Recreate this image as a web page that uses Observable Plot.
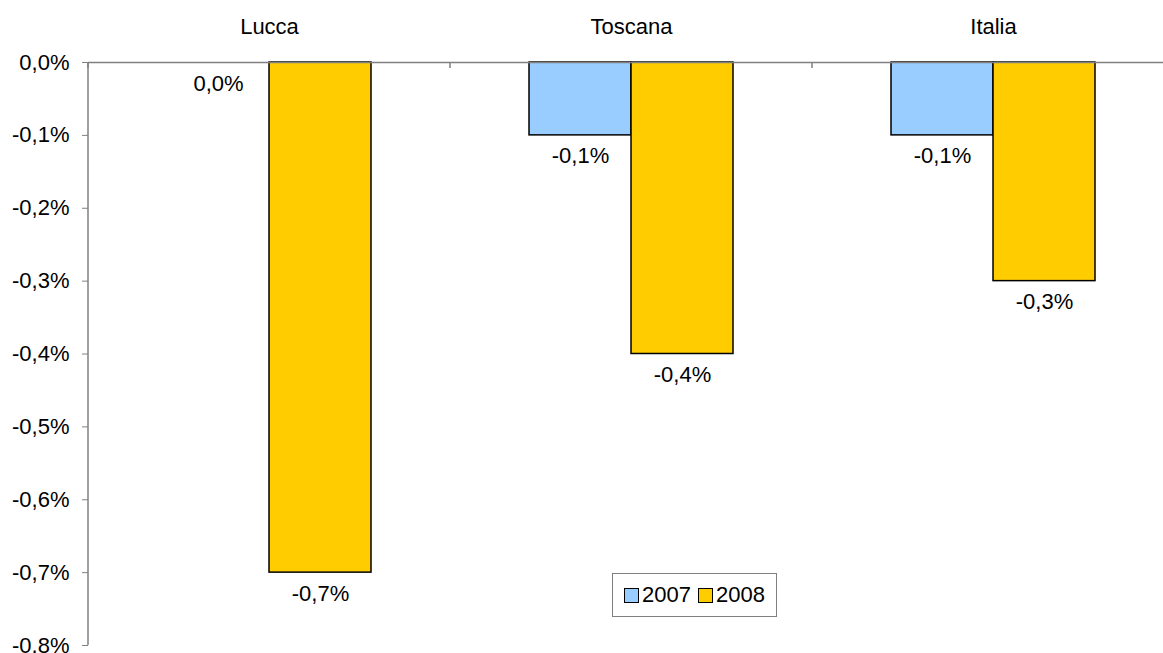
<!DOCTYPE html>
<html>
<head>
<meta charset="utf-8">
<script src="https://cdn.jsdelivr.net/npm/d3@7"></script>
<script src="https://cdn.jsdelivr.net/npm/@observablehq/plot@0.6"></script>
<style>
  html, body { margin: 0; padding: 0; background: #fff; }
  #wrap { position: relative; width: 1163px; height: 653px; overflow: hidden; font-family: "Liberation Sans", Arial, sans-serif; }
  #legend { position: absolute; left: 612px; top: 573px; width: 165px; height: 44px; border: 1.5px solid #808080; background: #fff;
            display: flex; align-items: center; justify-content: center; gap: 7px; font-size: 22px; color: #000; box-sizing: border-box; }
  #legend .item { display: flex; align-items: center; gap: 3px; }
  #legend .sw { width: 15px; height: 15px; border: 1.5px solid #000; box-sizing: border-box; }
</style>
</head>
<body>
<div id="wrap"><div id="chart"></div><div id="legend"></div></div>
<script>
const categories = ["Lucca", "Toscana", "Italia"];
const series = ["2007", "2008"];
const values2007 = [0.0, -0.1, -0.1];
const values2008 = [-0.7, -0.4, -0.3];
const yTicks = [0, -0.1, -0.2, -0.3, -0.4, -0.5, -0.6, -0.7, -0.8];
const colors = ["#99CCFF", "#FFCC00"];

const data = categories.flatMap((c, i) => [
  {category: c, year: series[0], value: values2007[i]},
  {category: c, year: series[1], value: values2008[i]}
]);

const fmt = v => (Math.abs(v) < 1e-9 ? 0 : v).toFixed(1).replace(".", ",") + "%";

const edgeTicks = Plot.ruleY(categories, {
  fx: d => d,
  y: () => 0,
  render(index, scales, values, dimensions) {
    const {marginLeft} = dimensions;
    const y0 = scales.y(0);
    const g = d3.create("svg:g").attr("stroke", "#808080").attr("stroke-width", 1.5).attr("fill", "none");
    g.append("line").attr("x1", marginLeft).attr("x2", marginLeft).attr("y1", y0).attr("y2", y0 + 6);
    if (index.includes(0)) {
      g.append("line").attr("x1", marginLeft).attr("x2", marginLeft)
        .attr("y1", scales.y(yTicks[0])).attr("y2", scales.y(yTicks[yTicks.length - 1]));
    }
    return g.node();
  }
});

const chart = Plot.plot({
  width: 1163,
  height: 653,
  marginTop: 62,
  marginBottom: 8,
  marginLeft: 87,
  marginRight: 0,
  style: {fontFamily: "'Liberation Sans', Arial, sans-serif", fontSize: "22px", color: "#000", background: "#fff"},
  fx: {domain: categories, range: [87, 1175], padding: 0, label: null},
  x: {domain: series, paddingInner: 0, paddingOuter: 0.76, axis: null},
  y: {domain: [-0.8, 0], label: null},
  color: {domain: series, range: colors},
  marks: [
    Plot.barY(data, {fx: "category", x: "year", y: "value", fill: "year", stroke: "#000", strokeWidth: 1.5}),
    Plot.ruleY([0], {stroke: "#808080", strokeWidth: 1.5}),
    edgeTicks,
    Plot.axisY({ticks: yTicks, tickSize: 6, tickPadding: 13, tickFormat: fmt, stroke: "#808080", fill: "#000", label: null}),
    Plot.axisFx({anchor: "top", tickSize: 0, tickPadding: 29, label: null, fill: "#000"}),
    Plot.text(data, {fx: "category", x: "year", y: "value", text: d => fmt(d.value), dy: 21, fill: "#000"})
  ]
});
document.getElementById("chart").appendChild(chart);

const legend = document.getElementById("legend");
series.forEach((s, i) => {
  const item = document.createElement("div");
  item.className = "item";
  item.innerHTML = `<span class="sw" style="background:${colors[i]}"></span><span>${s}</span>`;
  legend.appendChild(item);
});
</script>
</body>
</html>
